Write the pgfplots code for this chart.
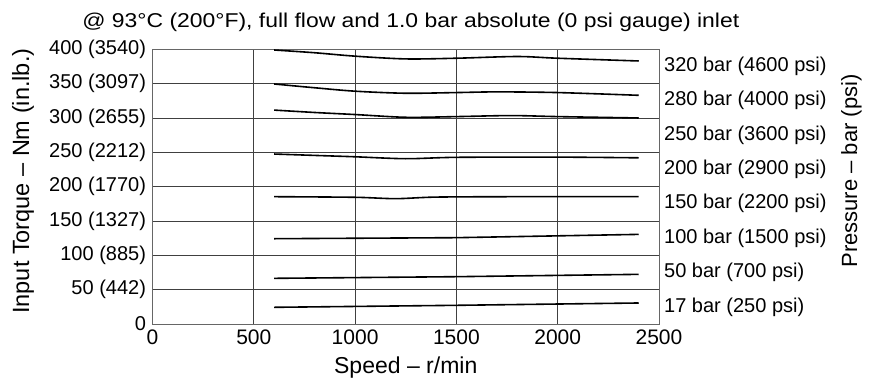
\documentclass[border=0pt]{standalone}
\usepackage{fontspec}
\setmainfont{Liberation Sans}
\usepackage{pgfplots}
\pgfplotsset{compat=1.18}
\newcommand\myfont{\fontsize{20bp}{24bp}\selectfont}
\begin{document}
\begin{tikzpicture}
\path[use as bounding box] (-152.5bp,-59bp) rectangle (720.5bp,324bp);
\begin{axis}[
  scale only axis,
  width=506.5bp, height=274.7bp,
  xmin=0, xmax=2500, ymin=0, ymax=400,
  xtick={0,500,1000,1500,2000,2500},
  xticklabels={0,500,1000,1500,2000,2500},
  ytick={0,50,100,150,200,250,300,350,400},
  yticklabels={0,50 (442),100 (885),150 (1327),200 (1770),250 (2212),300 (2655),350 (3097),400 (3540)},
  major tick length=0pt,
  grid=major,
  major grid style={draw=black!75, line width=0.8bp},
  axis line style={draw=black!60, line width=0.8bp},
  every tick label/.append style={font=\myfont, text=black},
  xticklabel style={font=\fontsize{21bp}{24bp}\selectfont, yshift=-2bp},
  yticklabel style={xshift=-3bp},
  clip=false,
]
\addplot[black, line width=1.6bp, smooth, tension=0.5] coordinates {(600,399) (800,395) (1000,390) (1250,386) (1500,387) (1800,389.5) (2000,387) (2400,383)};
\addplot[black, line width=1.6bp, smooth, tension=0.5] coordinates {(600,349.5) (800,344) (1000,339) (1250,336) (1500,337) (1700,338) (2000,337) (2400,333)};
\addplot[black, line width=1.6bp, smooth, tension=0.5] coordinates {(600,311.5) (800,308) (1000,305) (1250,301) (1500,302) (1770,303.5) (2000,302) (2400,300)};
\addplot[black, line width=1.6bp, smooth, tension=0.5] coordinates {(600,247.5) (800,245.5) (1000,243.5) (1250,240.7) (1500,242.7) (2000,243) (2400,242)};
\addplot[black, line width=1.6bp, smooth, tension=0.5] coordinates {(600,185.4) (1000,184.5) (1200,182.5) (1400,184.8) (1800,185.4) (2400,185.4)};
\addplot[black, line width=1.6bp] coordinates {(600,124.2) (1500,125.7) (2400,130.5)};
\addplot[black, line width=1.6bp] coordinates {(600,66.5) (1500,68.9) (2400,72.3)};
\addplot[black, line width=1.6bp] coordinates {(600,24.3) (1500,27.2) (2400,30.6)};
\node[anchor=west, font=\myfont, inner sep=0pt, xshift=5bp] at (axis cs:2500,375) {320 bar (4600 psi)};
\node[anchor=west, font=\myfont, inner sep=0pt, xshift=5bp] at (axis cs:2500,325) {280 bar (4000 psi)};
\node[anchor=west, font=\myfont, inner sep=0pt, xshift=5bp] at (axis cs:2500,275) {250 bar (3600 psi)};
\node[anchor=west, font=\myfont, inner sep=0pt, xshift=5bp] at (axis cs:2500,225) {200 bar (2900 psi)};
\node[anchor=west, font=\myfont, inner sep=0pt, xshift=5bp] at (axis cs:2500,175) {150 bar (2200 psi)};
\node[anchor=west, font=\myfont, inner sep=0pt, xshift=5bp] at (axis cs:2500,125) {100 bar (1500 psi)};
\node[anchor=west, font=\myfont, inner sep=0pt, xshift=5bp] at (axis cs:2500,75) {50 bar (700 psi)};
\node[anchor=west, font=\myfont, inner sep=0pt, xshift=5bp] at (axis cs:2500,25) {17 bar (250 psi)};
\node[rotate=90, font=\fontsize{22bp}{24bp}\selectfont, anchor=center] at (axis description cs:1.38,0.557) {Pressure -- bar (psi)};
\node[rotate=90, font=\fontsize{23.5bp}{26bp}\selectfont, anchor=center] at (axis description cs:-0.2557,0.52) {Input Torque -- Nm (in.lb.)};
\node[font=\fontsize{23bp}{26bp}\selectfont, anchor=base] at (axis description cs:0.5,-0.179) {Speed -- r/min};
\node[font=\myfont, anchor=base] at (axis description cs:0.51,1.081) {\scalebox{1.146}[1]{@ 93°C (200°F), full flow and 1.0 bar absolute (0 psi gauge) inlet}};
\end{axis}
\end{tikzpicture}
\end{document}
